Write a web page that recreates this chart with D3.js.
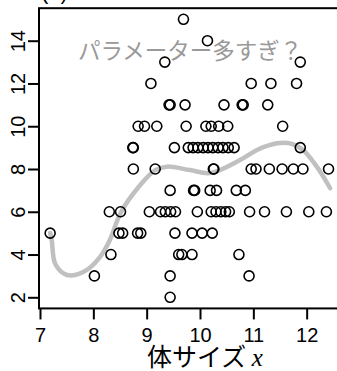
<!DOCTYPE html>
<html>
<head>
<meta charset="utf-8">
<script src="https://cdn.jsdelivr.net/npm/d3@7"></script>
<style>
  html, body { margin: 0; padding: 0; background: #fff; }
  svg { display: block; }
</style>
</head>
<body>
<svg id="chart" width="337" height="371"></svg>
<script>
// observed seeds (y) per body size (x)
const seeds15 = [9.69];
const seeds14 = [10.14];
const seeds13 = [9.34, 11.88];
const seeds12 = [9.08, 10.96, 11.33, 11.81];
const seeds11 = [9.42, 9.44, 9.72, 10.45, 10.79, 10.81, 11.27];
const seeds10 = [8.84, 8.96, 9.19, 9.74, 10.11, 10.21, 10.35, 10.52, 11.55];
const seeds9 = [8.74, 8.75, 9.52, 9.78, 9.87, 9.96, 10.06, 10.15, 10.24, 10.34, 10.43, 10.53, 10.64, 11.88];
const seeds8 = [8.75, 9.16, 10.25, 10.26, 10.96, 11.05, 11.30, 11.54, 11.75, 11.93, 12.41];
const seeds7 = [9.44, 9.88, 9.90, 10.19, 10.31, 10.68, 10.85];
const seeds6 = [8.30, 8.51, 9.05, 9.26, 9.35, 9.45, 9.54, 9.95, 10.21, 10.30, 10.39, 10.48, 10.55, 10.93, 11.21, 11.62, 12.04, 12.37];
const seeds5 = [7.19, 8.48, 8.55, 8.83, 8.89, 9.53, 9.85, 10.04, 10.23];
const seeds4 = [8.33, 9.60, 9.66, 9.85, 10.73];
const seeds3 = [8.02, 9.44, 10.92];
const seeds2 = [9.44];

// fitted curve
const fitX = [7.19, 7.22, 7.28, 7.44, 7.59, 7.88, 8.13, 8.31, 8.52, 8.88, 9.16, 9.38, 9.81, 10.19, 10.75, 11.07, 11.44, 11.69, 11.93, 12.19, 12.44];
const fitY = [5.01, 4.68, 3.60, 3.12, 3.02, 3.28, 3.90, 4.68, 5.99, 7.25, 7.95, 8.11, 7.95, 7.81, 8.42, 8.89, 9.20, 9.20, 8.89, 8.11, 7.10];

const xTicks = [7, 8, 9, 10, 11, 12];
const yTicks = [2, 4, 6, 8, 10, 12, 14];

const groups = [
  [15, seeds15], [14, seeds14], [13, seeds13], [12, seeds12], [11, seeds11],
  [10, seeds10], [9, seeds9], [8, seeds8], [7, seeds7], [6, seeds6],
  [5, seeds5], [4, seeds4], [3, seeds3], [2, seeds2]
];
const points = [];
groups.forEach(([y, xs]) => xs.forEach((x) => points.push({ x, y })));

const svg = d3.select("#chart");

const x = d3.scaleLinear().domain([7, 12]).range([40, 306.67]);
const y = d3.scaleLinear().domain([2, 14]).range([297.3, 40.7]);

// R style 4% padding around the data
const xExt = d3.extent(points, (d) => d.x);
const yExt = d3.extent(points, (d) => d.y);
const xPad = (xExt[1] - xExt[0]) * 0.04;
const yPad = (yExt[1] - yExt[0]) * 0.04;
const boxLeft = x(xExt[0] - xPad),
  boxRight = x(xExt[1] + xPad),
  boxTop = y(yExt[1] + yPad),
  boxBottom = y(yExt[0] - yPad);

const sans = "'Liberation Sans', Arial, Helvetica, sans-serif";

// panel tag, mostly cut off above the picture
svg
  .append("text")
  .attr("x", 41)
  .attr("y", -1)
  .style("font-family", sans)
  .style("font-size", "22px")
  .text("(b)");

// fitted curve
const fit = fitX.map((v, i) => ({ x: v, y: fitY[i] }));
const line = d3
  .line()
  .x((d) => x(d.x))
  .y((d) => y(d.y))
  .curve(d3.curveCatmullRom.alpha(0.5));

svg
  .append("path")
  .datum(fit)
  .attr("fill", "none")
  .attr("stroke", "#c0c0c0")
  .attr("stroke-width", 4.5)
  .attr("stroke-linecap", "round")
  .attr("d", line);

// annotation
svg
  .append("text")
  .attr("x", 78)
  .attr("y", 59)
  .style("font-family", "'Noto Sans CJK JP', sans-serif")
  .style("font-size", "22.5px")
  .style("fill", "#999999")
  .text("パラメーター多すぎ？");

// data points
svg
  .append("g")
  .selectAll("circle")
  .data(points)
  .join("circle")
  .attr("cx", (d) => x(d.x))
  .attr("cy", (d) => y(d.y))
  .attr("r", 5)
  .attr("fill", "none")
  .attr("stroke", "#000")
  .attr("stroke-width", 1.6);

// axes
const xAxis = svg
  .append("g")
  .attr("transform", `translate(0,${boxBottom})`)
  .call(
    d3.axisBottom(x).tickValues(xTicks).tickFormat(d3.format("d"))
      .tickSize(11).tickSizeOuter(0).tickPadding(8)
  );
xAxis.select(".domain").remove();
xAxis.selectAll("line").attr("stroke-width", 2);
xAxis.selectAll("text").style("font-family", sans).style("font-size", "20px").attr("fill", "#000");

const yAxis = svg
  .append("g")
  .attr("transform", `translate(${boxLeft},0)`)
  .call(
    d3.axisLeft(y).tickValues(yTicks).tickFormat(d3.format("d"))
      .tickSize(11).tickSizeOuter(0).tickPadding(3)
  );
yAxis.select(".domain").remove();
yAxis.selectAll("line").attr("stroke-width", 2);
yAxis
  .selectAll("text")
  .attr("x", null)
  .attr("dy", null)
  .attr("text-anchor", "middle")
  .attr("transform", "translate(-14,0) rotate(-90)")
  .style("font-family", sans)
  .style("font-size", "20px")
  .attr("fill", "#000");

// plot box
svg
  .append("rect")
  .attr("x", boxLeft)
  .attr("y", boxTop)
  .attr("width", boxRight - boxLeft)
  .attr("height", boxBottom - boxTop)
  .attr("fill", "none")
  .attr("stroke", "#000")
  .attr("stroke-width", 2);

// x label
const xlab = svg
  .append("text")
  .attr("x", 147)
  .attr("y", 366)
  .style("font-size", "25px");
xlab
  .append("tspan")
  .style("font-family", "'Noto Sans CJK JP', sans-serif")
  .text("体サイズ ");
xlab
  .append("tspan")
  .style("font-family", "'Liberation Serif', serif")
  .style("font-style", "italic")
  .text("x");
</script>
</body>
</html>
